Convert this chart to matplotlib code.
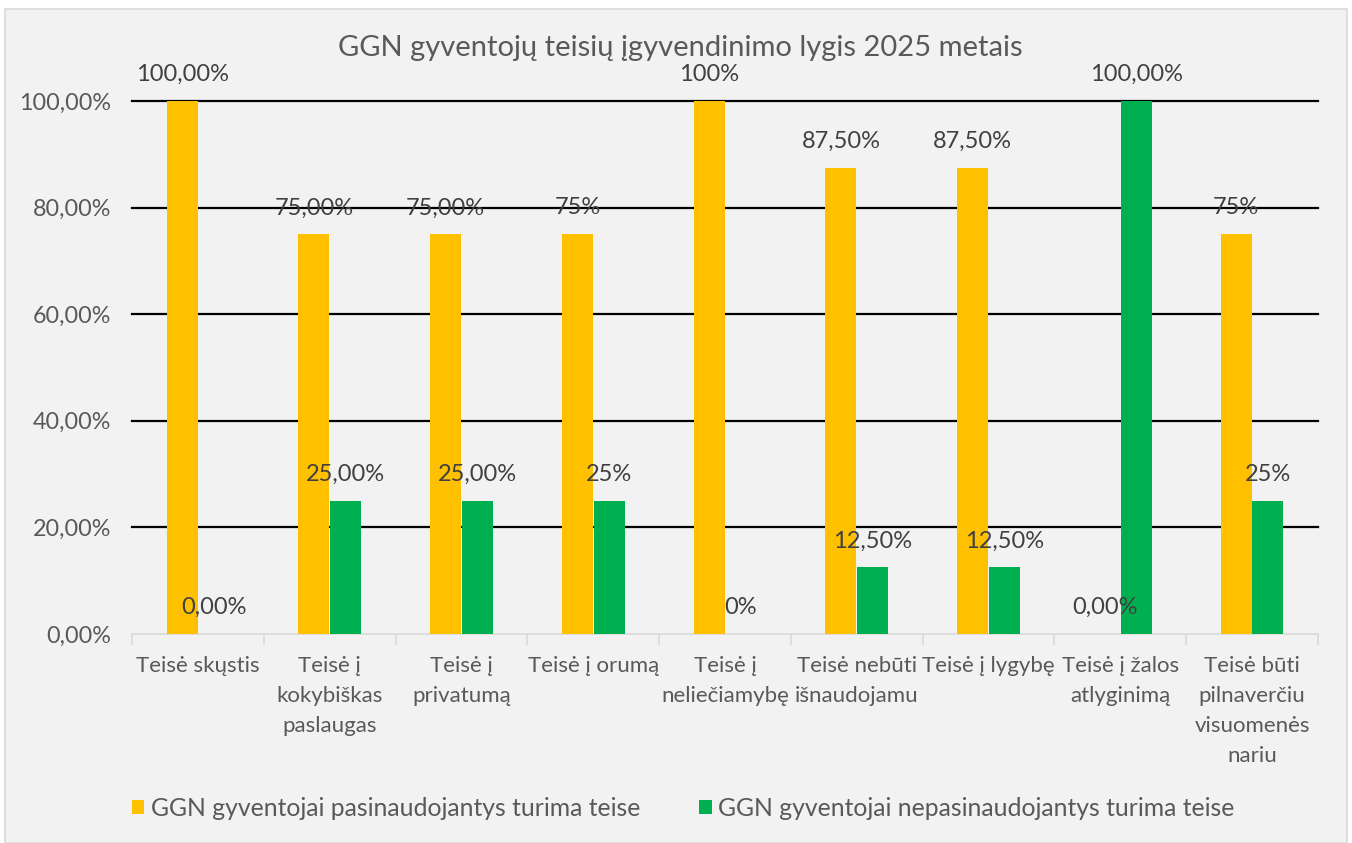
import numpy as np
import matplotlib.pyplot as plt
from matplotlib.patches import Rectangle

plt.rcParams['font.family'] = ['Lato', 'DejaVu Sans']

categories = ["Teisė skųstis", "Teisė į\nkokybiškas\npaslaugas", "Teisė į\nprivatumą",
              "Teisė į orumą", "Teisė į\nneliečiamybę", "Teisė nebūti\nišnaudojamu",
              "Teisė į lygybę", "Teisė į žalos\natlyginimą",
              "Teisė būti\npilnaverčiu\nvisuomenės\nnariu"]
used = [1.0, 0.75, 0.75, 0.75, 1.0, 0.875, 0.875, 0.0, 0.75]
not_used = [0.0, 0.25, 0.25, 0.25, 0.0, 0.125, 0.125, 1.0, 0.25]
used_labels = ["100,00%", "75,00%", "75,00%", "75%", "100%", "87,50%", "87,50%", "0,00%", "75%"]
not_used_labels = ["0,00%", "25,00%", "25,00%", "25%", "0%", "12,50%", "12,50%", "100,00%", "25%"]
yticks = [0, 0.2, 0.4, 0.6, 0.8, 1.0]
ytick_labels = ["0,00%", "20,00%", "40,00%", "60,00%", "80,00%", "100,00%"]

yellow = '#FFC000'
green = '#00B050'
txt = '#595959'
lbl = '#404040'

W, H = 1352, 843
fig = plt.figure(figsize=(W / 100, H / 100), dpi=100)
fig.patch.set_facecolor('white')
fig.patches.append(Rectangle((5 / W, 0), 1342 / W, 1 - 9 / H, transform=fig.transFigure,
                             facecolor='#F2F2F2', edgecolor='#D9D9D9', lw=1.2, zorder=-5))

ax = fig.add_axes([132 / W, 1 - 634 / H, 1186 / W, 533 / H])
ax.set_facecolor('#F2F2F2')
ax.set_zorder(2)

x = np.arange(len(categories))
bw = 0.235
ax.bar(x - 0.12, used, bw, color=yellow, zorder=3,
       label='GGN gyventojai pasinaudojantys turima teise')
ax.bar(x + 0.12, not_used, bw, color=green, zorder=3,
       label='GGN gyventojai nepasinaudojantys turima teise')

for i in range(len(categories)):
    ax.annotate(used_labels[i], (x[i] - 0.12, used[i]), xytext=(0, 19),
                textcoords='offset points', ha='center', va='center',
                fontsize=17, color=lbl, annotation_clip=False, zorder=4)
    ax.annotate(not_used_labels[i], (x[i] + 0.12, not_used[i]), xytext=(0, 19),
                textcoords='offset points', ha='center', va='center',
                fontsize=17, color=lbl, annotation_clip=False, zorder=4)

ax.set_xlim(-0.5, len(categories) - 0.5)
ax.set_ylim(0, 1.0)
ax.set_yticks(yticks)
ax.set_yticklabels(ytick_labels, fontsize=16.8, color=txt)
ax.tick_params(axis='y', length=0, pad=15)
for y in yticks[1:]:
    ax.axhline(y, color='black', lw=1.6, zorder=1, clip_on=False)

ax.set_xticks(x)
ax.set_xticklabels(categories, fontsize=16, color=txt, linespacing=1.62, va='top')
ax.tick_params(axis='x', length=0, pad=16)
ax.set_xticks(np.arange(-0.5, len(categories)), minor=True)
ax.tick_params(axis='x', which='minor', length=8, width=1.2, color='#D9D9D9')

for s in ['top', 'right', 'left']:
    ax.spines[s].set_visible(False)
ax.spines['bottom'].set_color('#D9D9D9')
ax.spines['bottom'].set_linewidth(1.2)

fig.text(0.503, 1 - 48 / H, 'GGN gyventojų teisių įgyvendinimo lygis 2025 metais',
         ha='center', va='center', fontsize=21, color=txt)

leg = ax.legend(loc='center left', bbox_to_anchor=(0, -0.327), ncol=2, frameon=False,
                fontsize=17.8, handlelength=0.5, handleheight=0.5, handletextpad=0.25,
                columnspacing=2.4, borderaxespad=0, borderpad=0)
for t in leg.get_texts():
    t.set_color(txt)

fig.savefig('out.png', dpi=100, facecolor=fig.get_facecolor())
